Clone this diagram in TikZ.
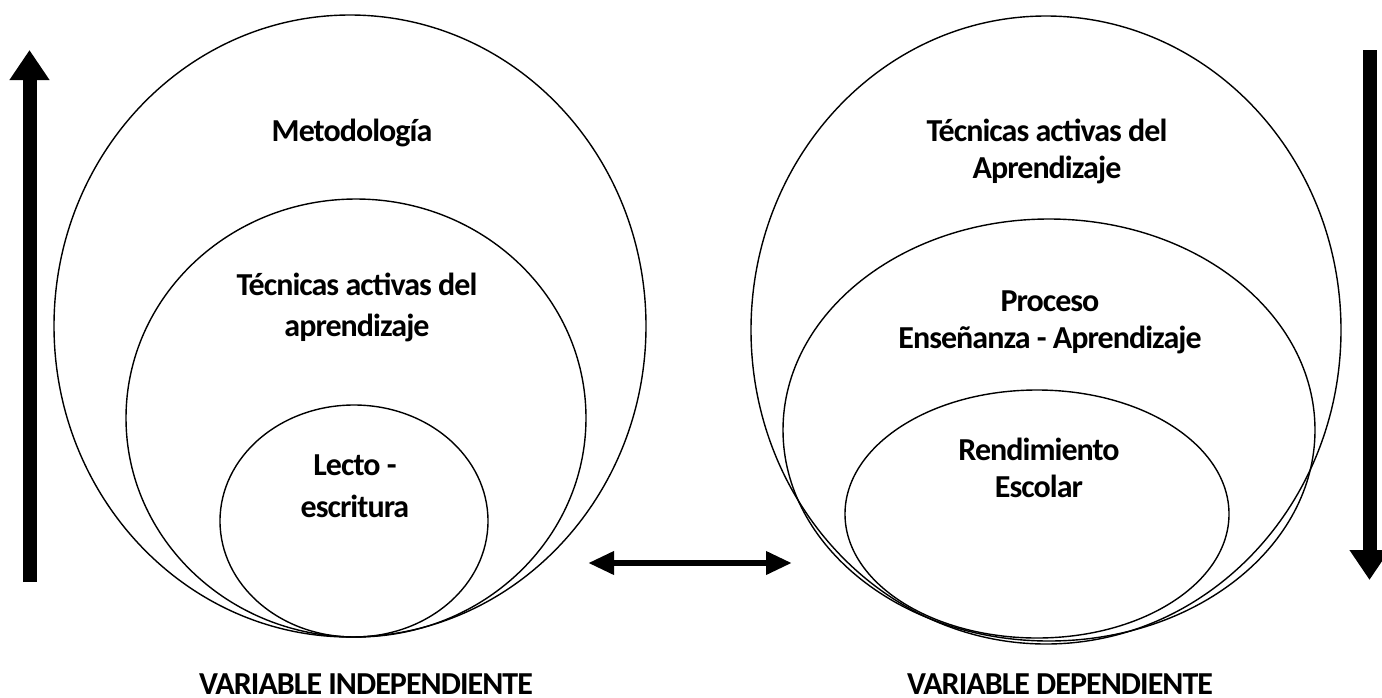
\documentclass[tikz,border=0pt]{standalone}
\usepackage{fontspec}
\setmainfont{Carlito}[LetterSpace=-3]
\usetikzlibrary{shapes.geometric,arrows.meta}
\begin{document}
\begin{tikzpicture}[x=0.5pt,y=-0.5pt,
  ring/.style={ellipse,draw,line width=0.7pt,inner sep=0pt},
  lbl/.style={font=\bfseries\fontsize{16}{18.5}\selectfont,align=center,inner sep=0pt},
  caption/.style={font=\bfseries\fontsize{16}{18.5}\selectfont,inner sep=0pt,anchor=base},
  bigarrow/.style={line width=7pt,-{Triangle[width=19pt,length=15pt]}},
  linkarrow/.style={line width=3.3pt,{Triangle[width=11pt,length=13pt]}-{Triangle[width=11pt,length=13pt]}}]
\useasboundingbox (0,0) rectangle (1382,697);
% left family
\node[ring,minimum width=296pt,minimum height=311pt] (lbig) at (350,326) {};
\node[ring,minimum width=230pt,minimum height=219pt] (lmid) at (356,418) {};
\node[ring,minimum width=134pt,minimum height=116pt] (lsmall) at (354,521) {};
% right family
\node[ring,minimum width=295pt,minimum height=314pt] (rbig) at (1046,330) {};
\node[ring,minimum width=266pt,minimum height=211pt] (rmid) at (1049,430) {};
\node[ring,minimum width=192pt,minimum height=124pt] (rsmall) at (1037,514) {};
% labels
\node[lbl] (t1) at (352,133) {Metodología};
\node[lbl,font=\bfseries\fontsize{16}{20.5}\selectfont] (t2) at (357,307) {Técnicas activas del\\aprendizaje};
\node[lbl,font=\bfseries\fontsize{16}{21}\selectfont] (t3) at (355,486) {Lecto -\\escritura};
\node[lbl] (t4) at (1047,151) {Técnicas activas del\\Aprendizaje};
\node[lbl] (t5) at (1050,322) {Proceso\\Enseñanza - Aprendizaje};
\node[lbl] (t6) at (1039,468) {Rendimiento\\Escolar};
\node[caption] (v1) at (366,694) {VARIABLE INDEPENDIENTE};
\node[caption] (v2) at (1060,694) {VARIABLE DEPENDIENTE};
% arrows
\coordinate (upS) at (29.5,582);
\coordinate (upE) at (29.5,50);
\coordinate (dnS) at (1369.5,50);
\coordinate (dnE) at (1369.5,580);
\coordinate (lnkL) at (588,563);
\coordinate (lnkR) at (792,563);
\draw[bigarrow] (upS) -- (upE);
\draw[bigarrow] (dnS) -- (dnE);
\draw[linkarrow] (lnkL) -- (lnkR);
\end{tikzpicture}
\end{document}
